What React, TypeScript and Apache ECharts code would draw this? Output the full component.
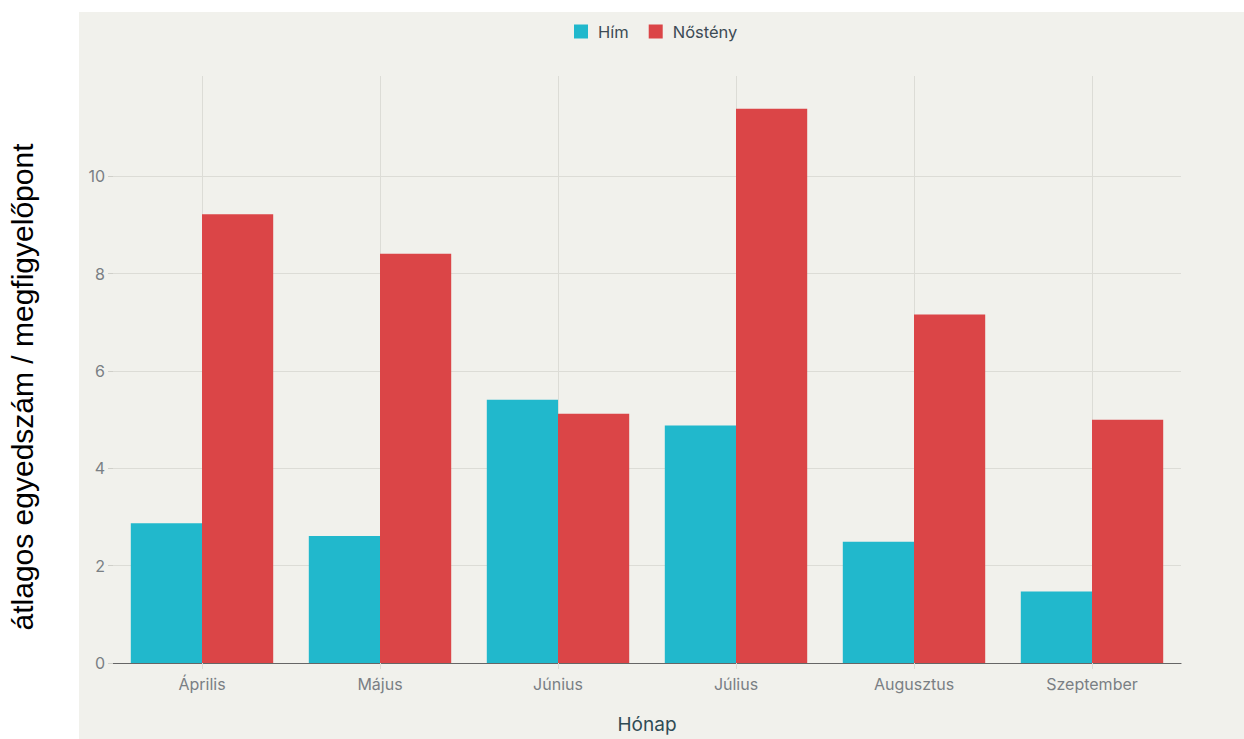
import React, { useEffect, useRef } from "react";
import * as echarts from "echarts";

const months = ["Április", "Május", "Június", "Július", "Augusztus", "Szeptember"];
const himValues = [2.87, 2.61, 5.41, 4.88, 2.49, 1.47];
const nostenyValues = [9.22, 8.41, 5.12, 11.39, 7.16, 5.0];
const seriesNames = ["Hím", "Nőstény"];
const yTicks = [0, 2, 4, 6, 8, 10, 12];
const yTitle = "átlagos egyedszám / megfigyelőpont";

export default function App() {
  const ref = useRef<HTMLDivElement>(null);
  useEffect(() => {
    if (!ref.current) return;
    const chart = echarts.init(ref.current, null, { renderer: "svg" });
    const font = "Inter, 'Noto Sans', sans-serif";
    chart.setOption({
      animation: false,
      backgroundColor: "#ffffff",
      graphic: [
        {
          type: "rect",
          z: -10,
          silent: true,
          shape: { x: 79, y: 12, width: 1165, height: 727 },
          style: { fill: "#f1f1ec" },
        },
        {
          type: "text",
          x: 22,
          y: 387,
          rotation: Math.PI / 2,
          silent: true,
          style: {
            text: yTitle,
            fontSize: 30,
            fill: "#000",
            fontFamily: "'Liberation Sans', Arial, sans-serif",
            align: "center",
            verticalAlign: "middle",
          },
        },
      ],
      legend: {
        top: 18,
        left: 569,
        icon: "rect",
        itemWidth: 14,
        itemHeight: 14,
        itemGap: 20,
        textStyle: { fontSize: 16.5, color: "#3d4b55", fontFamily: font, padding: [0, 0, 0, 5] },
        data: seriesNames,
      },
      grid: { left: 113, right: 63, top: 79, bottom: 73 },
      xAxis: [
        {
          type: "category",
          data: months,
          axisLine: { show: true, lineStyle: { color: "#666", width: 1.2 } },
          axisTick: {
            show: true,
            alignWithLabel: true,
            inside: true,
            length: 587,
            lineStyle: { color: "#dcdcd6" },
          },
          axisLabel: { margin: 13, fontSize: 16, color: "#7a7f84", fontFamily: font },
          name: "Hónap",
          nameLocation: "middle",
          nameGap: 52,
          nameTextStyle: { fontSize: 19, color: "#2f4b55", fontFamily: font },
          splitLine: { show: false },
        },
        {
          type: "category",
          data: months,
          position: "bottom",
          axisLine: { show: false },
          axisTick: { show: true, alignWithLabel: true, length: 6, lineStyle: { color: "#dcdcd6" } },
          axisLabel: { show: false },
          splitLine: { show: false },
        },
      ],
      yAxis: {
        type: "value",
        min: yTicks[0],
        max: yTicks[yTicks.length - 1],
        interval: 2,
        axisLine: { show: false },
        axisTick: { show: true, length: 5, lineStyle: { color: "#cfcfc9" } },
        axisLabel: {
          showMaxLabel: false,
          margin: 8,
          fontSize: 16,
          color: "#7a7f84",
          fontFamily: font,
        },
        splitLine: {
          show: true,
          lineStyle: {
            color: yTicks.map((t, i) => (i === yTicks.length - 1 ? "rgba(0,0,0,0)" : "#dcdcd6")),
            width: 1,
          },
        },
      },
      series: [
        {
          name: seriesNames[0],
          type: "bar",
          data: himValues,
          barGap: "0%",
          barCategoryGap: "20%",
          itemStyle: { color: "#21b8cc" },
        },
        {
          name: seriesNames[1],
          type: "bar",
          data: nostenyValues,
          barGap: "0%",
          barCategoryGap: "20%",
          itemStyle: { color: "#db4547" },
        },
      ],
    });
    return () => chart.dispose();
  }, []);
  return (
    <div
      ref={ref}
      style={{ position: "fixed", left: 0, top: 0, width: 1244, height: 739 }}
    />
  );
}
